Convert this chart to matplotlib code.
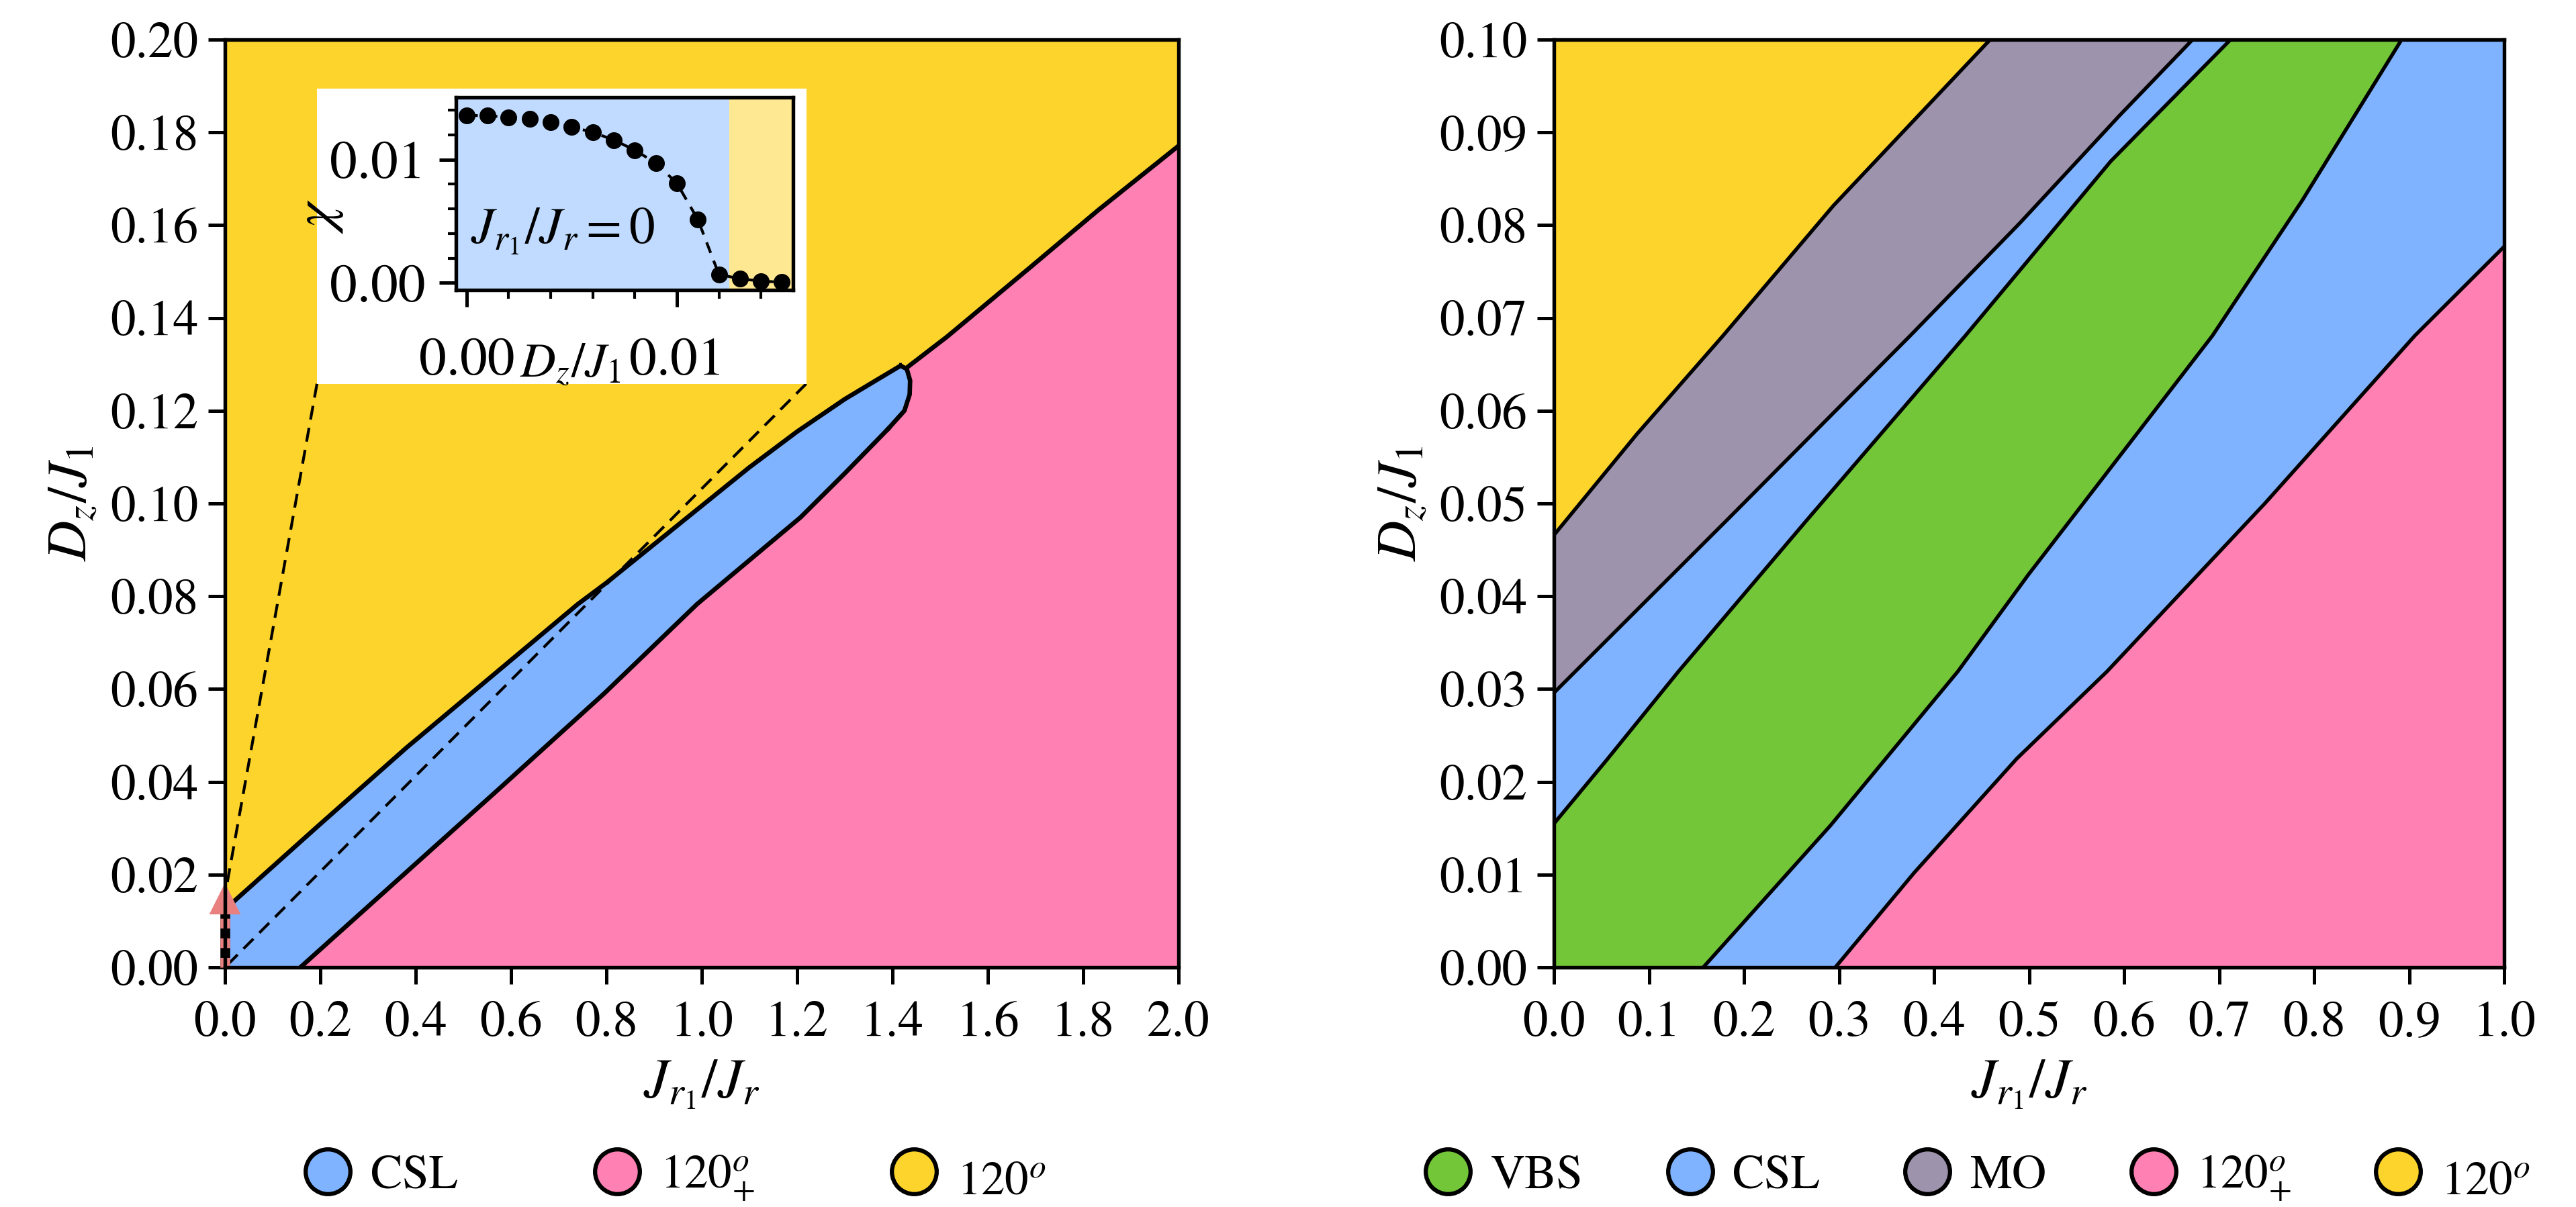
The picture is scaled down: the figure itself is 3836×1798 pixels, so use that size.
import numpy as np
import matplotlib
matplotlib.use('Agg')
import matplotlib.pyplot as plt
from matplotlib.lines import Line2D
from matplotlib.patches import Rectangle

plt.rcParams['font.family'] = ['STIXGeneral', 'DejaVu Sans']
plt.rcParams['mathtext.fontset'] = 'stix'
plt.rcParams['font.size'] = 18

# Colours of the phases
c_yellow = '#fdd42c'
c_pink = '#ff80b2'
c_blue = '#80b3ff'
c_green = '#72c637'
c_mo = '#9d93ad'

# ---- left panel: phase boundaries ----
csl_up_x = [0.0, 0.19, 0.38, 0.56, 0.74, 0.80, 1.00, 1.10, 1.20, 1.30, 1.36, 1.417]
csl_up_y = [0.0125, 0.030, 0.0473, 0.0628, 0.0783, 0.0829, 0.0995, 0.1078, 0.1155, 0.1225, 0.1262, 0.1297]
tip_x = [1.417, 1.430, 1.437, 1.436, 1.425, 1.391]
tip_y = [0.1297, 0.1290, 0.1265, 0.1235, 0.1200, 0.1161]
csl_low_x = [0.158, 0.575, 0.797, 0.99, 1.207, 1.30, 1.391]
csl_low_y = [0.0, 0.0385, 0.0592, 0.0783, 0.097, 0.1065, 0.1161]
yp_x = [1.429, 1.515, 1.69, 1.831, 2.0]
yp_y = [0.1292, 0.136, 0.151, 0.1632, 0.1771]

# inset: chi vs Dz/J1 at Jr1/Jr = 0
chi_x = [0.000, 0.001, 0.002, 0.003, 0.004, 0.005, 0.006, 0.007,
         0.008, 0.009, 0.010, 0.011, 0.012, 0.013, 0.014, 0.015]
chi_y = [0.01358, 0.01354, 0.01343, 0.01330, 0.01303, 0.01263, 0.01221, 0.01158,
         0.01076, 0.00971, 0.00808, 0.00514, 0.00069, 0.00033, 0.00015, 0.00005]
chi_csl_end = 0.0125

# ---- right panel: phase boundaries ----
ym_x = [0.0, 0.0874, 0.178, 0.294, 0.459]
ym_y = [0.0466, 0.0575, 0.0681, 0.0821, 0.1]
mc_x = [0.0, 0.1848, 0.375, 0.490, 0.595, 0.672]
mc_y = [0.0296, 0.0485, 0.0681, 0.0802, 0.0918, 0.1]
cv_x = [0.0, 0.055, 0.131, 0.266, 0.433, 0.586, 0.712]
cv_y = [0.0155, 0.0223, 0.0319, 0.0482, 0.0681, 0.0869, 0.1]
vc_x = [0.157, 0.291, 0.425, 0.499, 0.693, 0.787, 0.892]
vc_y = [0.0, 0.0153, 0.0319, 0.0423, 0.0681, 0.0826, 0.1]
cp_x = [0.296, 0.379, 0.487, 0.582, 0.748, 0.906, 1.0]
cp_y = [0.0, 0.0102, 0.0225, 0.0319, 0.05, 0.0681, 0.0777]

fig = plt.figure(figsize=(3837 / 300, 1798 / 300), dpi=300)
ax1 = fig.add_axes([0.0873, 0.1985, 0.3701, 0.7687])
ax2 = fig.add_axes([0.6031, 0.1985, 0.3688, 0.7687])

# left panel
ax1.set_facecolor(c_yellow)
px = np.concatenate([csl_low_x, tip_x[::-1], yp_x, [2.0]])
py = np.concatenate([csl_low_y, tip_y[::-1], yp_y, [0.0]])
ax1.fill(px, py, color=c_pink, lw=0)
bx = np.concatenate([[0.0], csl_low_x, tip_x[::-1], csl_up_x[::-1]])
by = np.concatenate([[0.0], csl_low_y, tip_y[::-1], csl_up_y[::-1]])
ax1.fill(bx, by, color=c_blue, lw=0)
lw = 1.6
ax1.plot(csl_up_x, csl_up_y, 'k', lw=lw)
ax1.plot(tip_x, tip_y, 'k', lw=lw)
ax1.plot(csl_low_x, csl_low_y, 'k', lw=lw)
ax1.plot(yp_x, yp_y, 'k', lw=lw)

# zoom guide lines and white box behind the inset
ax1.plot([0.193, 0.0], [0.1258, 0.0155], 'k--', lw=1.0, dashes=(5, 3))
ax1.plot([1.219, 0.0], [0.1258, 0.0], 'k--', lw=1.0, dashes=(5, 3))
ax1.add_patch(Rectangle((0.193, 0.1258), 1.026, 0.0636, facecolor='white',
                        edgecolor='none', zorder=3))

# vertical arrow at Jr1/Jr = 0
ax1.plot([0, 0], [0, 0.0125], color='k', lw=3.5, clip_on=False, zorder=5,
         solid_capstyle='butt')
ax1.plot([0, 0], [0, 0.0125], color='#e88080', lw=3.5, clip_on=False, zorder=6,
         dashes=(1.0, 1.0), dash_capstyle='butt')
ax1.plot([0], [0.0146], marker='^', color='#e88080', ms=9.5, clip_on=False, zorder=6)

ax1.set_xlim(0, 2.0)
ax1.set_ylim(0, 0.2)
ax1.set_xticks(np.arange(0, 2.01, 0.2))
ax1.set_yticks(np.arange(0, 0.201, 0.02))
ax1.xaxis.set_major_formatter(matplotlib.ticker.FormatStrFormatter('%.1f'))
ax1.yaxis.set_major_formatter(matplotlib.ticker.FormatStrFormatter('%.2f'))
ax1.set_xlabel(r'$J_{r_1}/J_r$', fontsize=20)
ax1.set_ylabel(r'$D_z/J_1$', fontsize=20)

# right panel
ax2.fill(np.concatenate([ym_x, [0.0]]), np.concatenate([ym_y, [0.1]]), color=c_yellow, lw=0)
ax2.fill(np.concatenate([ym_x, mc_x[::-1]]), np.concatenate([ym_y, mc_y[::-1]]),
         color=c_mo, lw=0)
ax2.fill(np.concatenate([mc_x, cv_x[::-1]]), np.concatenate([mc_y, cv_y[::-1]]),
         color=c_blue, lw=0)
ax2.fill(np.concatenate([cv_x, vc_x[::-1], [0.0]]), np.concatenate([cv_y, vc_y[::-1], [0.0]]),
         color=c_green, lw=0)
ax2.fill(np.concatenate([vc_x, [1.0], cp_x[::-1]]), np.concatenate([vc_y, [0.1], cp_y[::-1]]),
         color=c_blue, lw=0)
ax2.fill(np.concatenate([cp_x, [1.0]]), np.concatenate([cp_y, [0.0]]), color=c_pink, lw=0)
for xs, ys in [(ym_x, ym_y), (mc_x, mc_y), (cv_x, cv_y), (vc_x, vc_y), (cp_x, cp_y)]:
    ax2.plot(xs, ys, 'k', lw=1.3)
ax2.set_xlim(0, 1.0)
ax2.set_ylim(0, 0.1)
ax2.set_xticks(np.arange(0, 1.01, 0.1))
ax2.set_yticks(np.arange(0, 0.101, 0.01))
ax2.xaxis.set_major_formatter(matplotlib.ticker.FormatStrFormatter('%.1f'))
ax2.yaxis.set_major_formatter(matplotlib.ticker.FormatStrFormatter('%.2f'))
ax2.set_xlabel(r'$J_{r_1}/J_r$', fontsize=20)
ax2.set_ylabel(r'$D_z/J_1$', fontsize=20)

for ax in (ax1, ax2):
    for s in ax.spines.values():
        s.set_linewidth(1.3)
        s.set_zorder(7)
    ax.tick_params(length=6, width=1.2, labelsize=18)
    ax.tick_params(axis='x', pad=6)

# inset
axi = fig.add_axes([0.177, 0.7597, 0.1308, 0.1596])
axi.axvspan(-0.001, chi_csl_end, color='#c0dbff', lw=0)
axi.axvspan(chi_csl_end, 0.02, color='#ffe892', lw=0)
axi.plot(chi_x, chi_y, 'k--', marker='o', ms=5, lw=1.0, dashes=(4, 3))
axi.set_xlim(-0.0005, 0.01553)
axi.set_ylim(-0.00058, 0.01503)
axi.set_xticks([0.0, 0.01])
axi.set_yticks([0.0, 0.01])
axi.set_xticks(np.arange(0, 0.0151, 0.002), minor=True)
axi.set_yticks(np.arange(0, 0.0151, 0.002), minor=True)
axi.xaxis.set_major_formatter(matplotlib.ticker.FormatStrFormatter('%.2f'))
axi.yaxis.set_major_formatter(matplotlib.ticker.FormatStrFormatter('%.2f'))
axi.tick_params(which='major', length=6, width=1.2, labelsize=19.5, pad=5)
axi.tick_params(which='minor', length=3, width=1.0)
axi.tick_params(axis='x', which='major', pad=11)
for s in axi.spines.values():
    s.set_linewidth(1.3)
axi.set_xlabel(r'$D_z/J_1$', fontsize=17.5)
axi.xaxis.set_label_coords(0.34, -0.27)
axi.set_ylabel(r'$\chi$', fontsize=20)
axi.yaxis.set_label_coords(-0.33, 0.38)
axi.text(0.0002, 0.0042, r'$J_{r_1}/J_r = 0$', fontsize=18.5, va='center')

# legends
def handle(c):
    return Line2D([], [], ls='none', marker='o', ms=16, markerfacecolor=c,
                  markeredgecolor='k', markeredgewidth=1.5)

lab_plus = r'$120^o_{+}$'
lab_minus = r'$120^o_{\mathbf{-}}$'
leg1 = ax1.legend([handle(c_blue), handle(c_pink), handle(c_yellow)],
                  ['CSL', lab_plus, lab_minus],
                  loc='center left', bbox_to_anchor=(0.058, -0.227), borderaxespad=0,
                  ncol=3, frameon=False, fontsize=17, handletextpad=0.3,
                  columnspacing=2.75, handlelength=1.2)
leg2 = ax2.legend([handle(c_green), handle(c_blue), handle(c_mo), handle(c_pink), handle(c_yellow)],
                  ['VBS', 'CSL', 'MO', lab_plus, lab_minus],
                  loc='center left', bbox_to_anchor=(-0.162, -0.227), borderaxespad=0,
                  ncol=5, frameon=False, fontsize=17, handletextpad=0.3,
                  columnspacing=1.65, handlelength=1.2)

fig.savefig('out.png', dpi=300)
